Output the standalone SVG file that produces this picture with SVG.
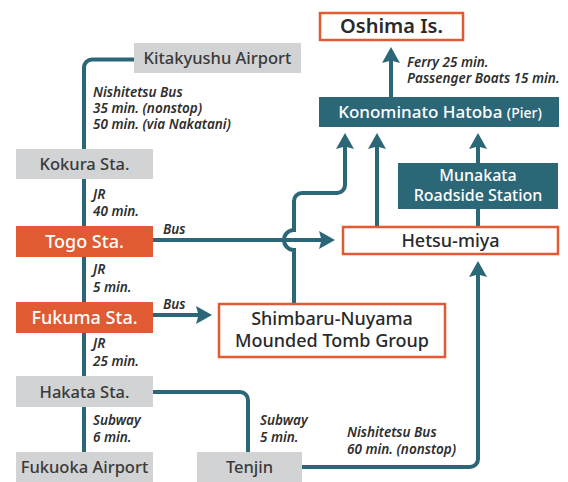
<svg xmlns="http://www.w3.org/2000/svg" width="568" height="482" viewBox="0 0 568 482">
<defs>
<marker id="ah" markerUnits="userSpaceOnUse" markerWidth="20" markerHeight="20" refX="8" refY="0" viewBox="0 -10 18 20" orient="auto" overflow="visible">
<path d="M0,-9 L16,0 L0,9 L2.5,0 Z" fill="#2b6777"/>
</marker>
<style>
.ln{fill:none;stroke:#2b6777;stroke-width:4}
.arr{marker-end:url(#ah)}
.gray{fill:#d1d3d4}
.org{fill:#e05a33}
.teal{fill:#2b6777}
.wbox{fill:#fff;stroke:#e05a33;stroke-width:2.5}
.t{font-family:"Noto Sans","Open Sans",sans-serif;font-weight:500;text-anchor:middle}
.tg{fill:#3a3a3a;font-size:16.5px}
.tw{fill:#fff;font-size:18px}
.tb{fill:#2a2a2a;font-size:18px}
.lab{font-family:"Noto Sans","Open Sans",sans-serif;font-style:italic;font-weight:600;font-size:13.5px;fill:#2e2e2e}
</style>
</defs>
<g id="connectors">
<path class="ln" d="M134 59.5 H92 A8 8 0 0 0 84 67.5 V460"/>
<path class="ln arr" d="M153 240 H327"/>
<path class="ln arr" d="M153 315 H204"/>
<path class="ln arr" d="M294 303 V250 A10 10 0 0 1 294 230 V201 A8 8 0 0 1 302 193 H337 A8 8 0 0 0 345 185 V141"/>
<path class="ln arr" d="M377 226 V141"/>
<path class="ln arr" d="M478 163 V141"/>
<path class="ln" d="M478 209 V226"/>
<path class="ln arr" d="M391 97 V55"/>
<path class="ln" d="M153 392 H240 A8 8 0 0 1 248 400 V452"/>
<path class="ln arr" d="M302 467 H470 A8 8 0 0 0 478 459 V269"/>
</g>
<g id="labels">
<text class="lab" x="93" y="97">Nishitetsu Bus</text>
<text class="lab" x="93" y="113">35 min. (nonstop)</text>
<text class="lab" x="93" y="129">50 min. (via Nakatani)</text>
<text class="lab" x="93" y="199">JR</text>
<text class="lab" x="93" y="216">40 min.</text>
<text class="lab" x="163" y="234">Bus</text>
<text class="lab" x="93" y="274">JR</text>
<text class="lab" x="93" y="292">5 min.</text>
<text class="lab" x="163" y="309">Bus</text>
<text class="lab" x="93" y="348">JR</text>
<text class="lab" x="93" y="366">25 min.</text>
<text class="lab" x="93" y="425">Subway</text>
<text class="lab" x="93" y="442">6 min.</text>
<text class="lab" x="260" y="425">Subway</text>
<text class="lab" x="260" y="442">5 min.</text>
<text class="lab" x="347" y="437">Nishitetsu Bus</text>
<text class="lab" x="347" y="454">60 min. (nonstop)</text>
<text class="lab" x="407" y="67">Ferry 25 min.</text>
<text class="lab" x="407" y="83">Passenger Boats 15 min.</text>
</g>
<g id="kitakyushu">
<rect class="gray" x="134" y="43" width="167" height="30"/>
<text class="t tg" x="217.5" y="64">Kitakyushu Airport</text>
</g>
<g id="kokura">
<rect class="gray" x="16" y="149" width="137" height="30"/>
<text class="t tg" x="84.5" y="170">Kokura Sta.</text>
</g>
<g id="togo">
<rect class="org" x="16" y="226" width="137" height="31"/>
<text class="t tw" x="84.5" y="248">Togo Sta.</text>
</g>
<g id="fukuma">
<rect class="org" x="16" y="302" width="137" height="31"/>
<text class="t tw" x="84.5" y="324">Fukuma Sta.</text>
</g>
<g id="hakata">
<rect class="gray" x="16" y="376" width="137" height="31"/>
<text class="t tg" x="84.5" y="398">Hakata Sta.</text>
</g>
<g id="fukuoka">
<rect class="gray" x="16" y="452" width="137" height="30"/>
<text class="t tg" x="84.5" y="473">Fukuoka Airport</text>
</g>
<g id="tenjin">
<rect class="gray" x="197" y="452" width="105" height="30"/>
<text class="t tg" x="249.5" y="473">Tenjin</text>
</g>
<g id="shimbaru">
<rect class="wbox" x="219" y="304" width="226" height="53"/>
<text class="t tb" x="332" y="325">Shimbaru-Nuyama</text>
<text class="t tb" x="332" y="347">Mounded Tomb Group</text>
</g>
<g id="hetsu">
<rect class="wbox" x="343" y="227" width="215" height="27"/>
<text class="t tb" x="450.5" y="247">Hetsu-miya</text>
</g>
<g id="oshima">
<rect class="wbox" x="320" y="13" width="143" height="27"/>
<text class="t tb" x="391.5" y="33" style="font-size:20px;font-weight:600">Oshima Is.</text>
</g>
<g id="konominato">
<rect class="teal" x="319" y="97" width="240" height="30"/>
<text class="t tw" x="440" y="118" style="font-size:17px">Konominato Hatoba <tspan style="font-size:14px">(Pier)</tspan></text>
</g>
<g id="munakata">
<rect class="teal" x="398" y="163" width="160" height="46"/>
<text class="t tw" x="478" y="181" style="font-size:16px">Munakata</text>
<text class="t tw" x="478" y="201" style="font-size:16px">Roadside Station</text>
</g>
</svg>
